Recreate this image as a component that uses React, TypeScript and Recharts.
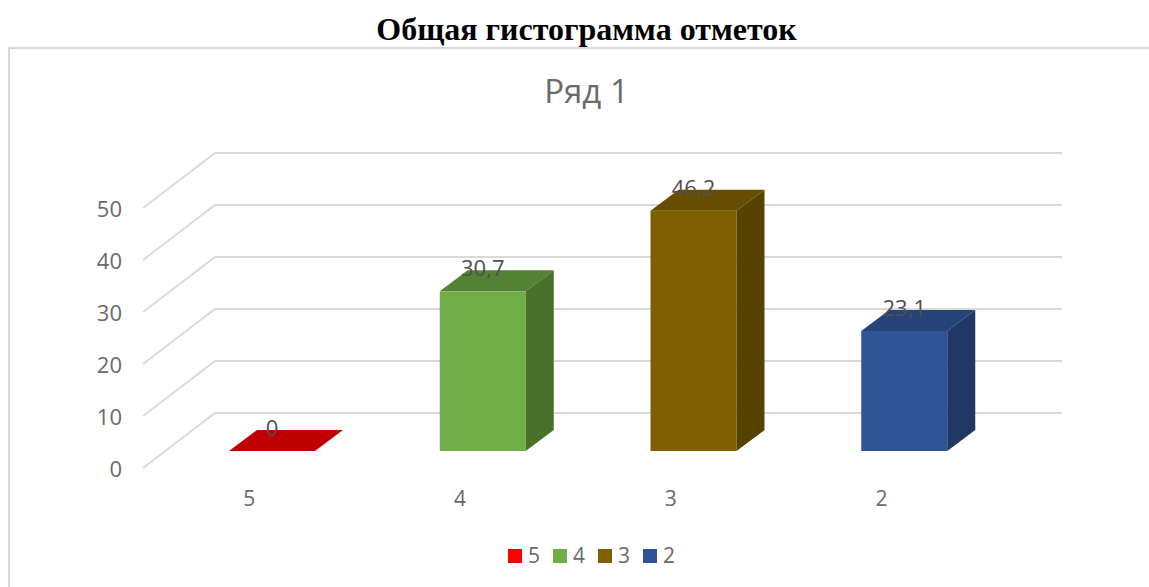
import { BarChart, Bar, XAxis, YAxis, CartesianGrid, LabelList, Legend } from "recharts";

const categories = ["5", "4", "3", "2"];
const values = [0, 30.7, 46.2, 23.1];
const yTicks = [0, 10, 20, 30, 40, 50];

// Colours per bar
const legendColors = ["#ff0000", "#70ad47", "#7f6000", "#2f5597"];
const frontColors = ["#c00000", "#70ad47", "#7f6000", "#2f5597"];
const topColors = ["#c00000", "#548235", "#664d00", "#264478"];
const sideColors = ["#a00000", "#4a7029", "#574200", "#1f3864"];

const FONT = "'Open Sans', sans-serif";
const GRID = "#d9d9d9";
const TEXT = "#6a6a6a";

// Fake 3D depth of the bars and the wall
const DEPTH_X = 28;
const DEPTH_Y = 21;

const chartData = categories.map((category, i) => ({ category, value: values[i] }));

function Bar3D(props: any) {
  const { x, y, width, height, index } = props;
  const r = x + width;
  const b = y + height;
  return (
    <g>
      <rect x={x} y={y} width={width} height={height} fill={frontColors[index]} />
      <polygon
        points={`${x},${y} ${x + DEPTH_X},${y - DEPTH_Y} ${r + DEPTH_X},${y - DEPTH_Y} ${r},${y}`}
        fill={topColors[index]}
      />
      <polygon
        points={`${r},${y} ${r + DEPTH_X},${y - DEPTH_Y} ${r + DEPTH_X},${b - DEPTH_Y} ${r},${b}`}
        fill={sideColors[index]}
      />
    </g>
  );
}

// One grid line runs along the side wall, then along the back wall
function WallLine(props: any) {
  const { x1, x2, y1 } = props;
  return (
    <polyline
      points={`${x1 - 24},${y1 + 17} ${x1 + 48},${y1 - 38} ${x2 + 52},${y1 - 38}`}
      fill="none"
      stroke={GRID}
      strokeWidth={1.8}
    />
  );
}

function YTick(props: any) {
  const { y, payload } = props;
  return (
    <text x={122} y={y + 26} textAnchor="end" fontFamily={FONT} fontSize={22} fill={TEXT}>
      {payload.value}
    </text>
  );
}

function XTick(props: any) {
  const { x, payload } = props;
  return (
    <text x={x - 23} y={506} textAnchor="middle" fontFamily={FONT} fontSize={21} fill={TEXT}>
      {payload.value}
    </text>
  );
}

function LegendRow() {
  return (
    <div style={{ display: "flex", fontFamily: FONT, fontSize: 21, color: TEXT, lineHeight: "27px" }}>
      {categories.map((c, i) => (
        <div key={c} style={{ width: 45, display: "flex", alignItems: "center" }}>
          <span
            style={{ width: 14, height: 14, background: legendColors[i], marginRight: 6, display: "inline-block" }}
          />
          {c}
        </div>
      ))}
    </div>
  );
}

export default function App() {
  return (
    <div style={{ position: "absolute", left: 0, top: 0, width: 1149, height: 587, background: "#fff", overflow: "hidden" }}>
      <div
        style={{
          position: "absolute",
          left: 0,
          width: 1149,
          top: 11,
          textAlign: "center",
          paddingLeft: 24,
          boxSizing: "border-box",
          fontFamily: "'Liberation Serif', serif",
          fontWeight: "bold",
          fontSize: 32,
          lineHeight: "36px",
          color: "#000",
        }}
      >
        Общая гистограмма отметок
      </div>
      <div
        style={{
          position: "absolute",
          left: 8,
          top: 47,
          width: 1141,
          height: 540,
          borderTop: `2px solid ${GRID}`,
          borderLeft: `2px solid ${GRID}`,
          boxSizing: "border-box",
        }}
      />
      <div
        style={{
          position: "absolute",
          left: 0,
          width: 1149,
          top: 68,
          paddingLeft: 24,
          boxSizing: "border-box",
          textAlign: "center",
          fontFamily: FONT,
          fontSize: 33,
          lineHeight: "46px",
          color: "#6a6a6a",
        }}
      >
        Ряд 1
      </div>
      <div style={{ position: "absolute", left: 0, top: 0 }}>
        <BarChart
          width={1149}
          height={587}
          data={chartData}
          margin={{ top: 191, right: 139, bottom: 86, left: 107 }}
          barCategoryGap={0}
        >
          <CartesianGrid vertical={false} horizontal={(p: any) => <WallLine key={p.key} {...p} />} />
          <XAxis dataKey="category" height={50} axisLine={false} tickLine={false} tick={<XTick />} />
          <YAxis
            width={60}
            domain={[0, 50]}
            ticks={yTicks}
            axisLine={false}
            tickLine={false}
            tick={<YTick />}
            tickMargin={0}
          />
          <Legend
            layout="horizontal"
            align="center"
            verticalAlign="middle"
            content={<LegendRow />}
            wrapperStyle={{ left: 508, top: 542, width: 190 }}
          />
          <Bar dataKey="value" barSize={86} isAnimationActive={false} shape={<Bar3D />}>
            <LabelList
              dataKey="value"
              position="top"
              offset={15}
              fontFamily={FONT}
              fontSize={22}
              fill="#505050"
              formatter={(v: any) => String(v).replace(".", ",")}
            />
          </Bar>
        </BarChart>
      </div>
    </div>
  );
}
